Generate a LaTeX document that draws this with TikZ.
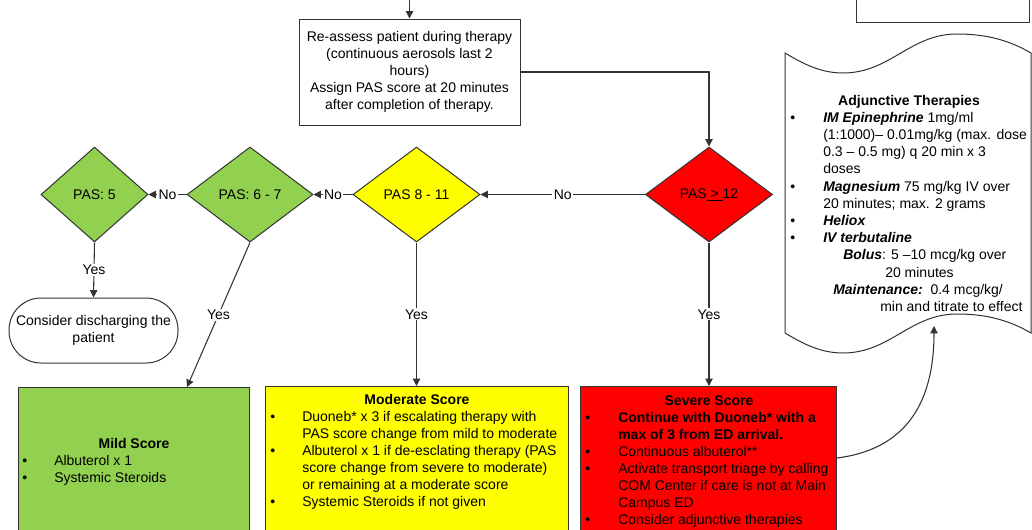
\documentclass[tikz,border=0pt]{standalone}
\usepackage{fontspec}
\setmainfont{Liberation Sans}
\usetikzlibrary{shapes.geometric,arrows.meta}
\definecolor{mildgreen}{HTML}{92D050}
\definecolor{modyellow}{HTML}{FFFF00}
\definecolor{sevred}{HTML}{FF0000}
\definecolor{inkgray}{HTML}{333333}
\begin{document}
\fontsize{10.5}{12.75}\selectfont
\begin{tikzpicture}[x=0.75pt,y=-0.75pt,
  edge/.style={draw=inkgray, line width=0.8pt},
  flow/.style={edge, -{Triangle[length=5.5pt,width=5.5pt]}},
  decision/.style={diamond, draw=inkgray, line width=0.75pt, inner sep=0pt,
    minimum height={95*0.75pt}},
  panel/.style={rectangle, draw=inkgray, line width=0.75pt, anchor=north west,
    inner sep=0pt},
  tag/.style={fill=white, inner sep=1pt},
  ln/.style={anchor=base west, inner sep=0pt},
  cln/.style={anchor=base, inner sep=0pt},
  bi/.style={font=\bfseries\itshape},
]
\useasboundingbox (0,0) rectangle (1032,529);

% previous step, only its lower part is in view
\node[panel, minimum width={173*0.75pt}, minimum height={40*0.75pt}] (prev) at (856,-18) {};

% re-assessment step
\node[draw=inkgray, line width=0.75pt, minimum width={221*0.75pt},
  minimum height={106*0.75pt}, align=center, inner sep=0pt] (reassess) at (409.5,72)
  {Re-assess patient during therapy\\(continuous aerosols last 2\\hours)\\Assign PAS score at 20 minutes\\after completion of therapy.};
\coordinate (entry) at (409.5,-10);

% score decisions
\node[decision, fill=sevred, minimum width={127*0.75pt}] (p12) at (709,194.5) {PAS\underline{\ >\ }12};
\node[decision, fill=modyellow, minimum width={127*0.75pt}] (p811) at (416.5,194.5) {PAS 8 - 11};
\node[decision, fill=mildgreen, minimum width={126*0.75pt}] (p67) at (250,194.5) {PAS: 6 - 7};
\node[decision, fill=mildgreen, minimum width={107*0.75pt}] (p5) at (94.5,194.5) {PAS: 5};

% discharge terminal
\node[draw=inkgray, line width=0.75pt, rounded corners=24pt, minimum width={169*0.75pt},
  minimum height={65*0.75pt}, align=center, inner sep=0pt] (discharge) at (93.5,330.5)
  {Consider discharging the\\patient};

% treatment panels
\node[panel, fill=mildgreen, minimum width={231*0.75pt}, minimum height={144*0.75pt}] (mild) at (18,387) {};
\node[panel, fill=modyellow, minimum width={303*0.75pt}, minimum height={170*0.75pt}] (moderate) at (265,386) {};
\node[panel, fill=sevred, minimum width={256*0.75pt}, minimum height={170*0.75pt}] (severe) at (580,386) {};

% adjunctive therapies (tape shape)
\draw[edge, line width=0.75pt, fill=white]
  (785,53) .. controls (805,65) and (822,73) .. (843,73)
  .. controls (890,73) and (910,34) .. (957,34)
  .. controls (990,34) and (1012,42) .. (1031,53)
  -- (1031,333) .. controls (1012,322) and (990,314) .. (957,314)
  .. controls (910,314) and (890,353) .. (843,353)
  .. controls (822,353) and (805,345) .. (785,333) -- cycle;
\coordinate (adjin) at (934,326);

% mild text
\node[cln, font=\bfseries] (mildT) at (134,448) {Mild Score};
\node[ln] (mildB1) at (22,465) {\textbullet};
\node[ln] (mild1) at (54,465) {Albuterol x 1};
\node[ln] (mildB2) at (22,482) {\textbullet};
\node[ln] (mild2) at (54,482) {Systemic Steroids};

% moderate text
\node[cln, font=\bfseries] (modT) at (417,404) {Moderate Score};
\node[ln] (modB1) at (270,421) {\textbullet};
\node[ln] (mod1) at (302,421) {Duoneb* x 3 if escalating therapy with};
\node[ln] (mod2) at (302,438) {PAS score change from mild to moderate};
\node[ln] (modB2) at (270,455) {\textbullet};
\node[ln] (mod3) at (302,455) {Albuterol x 1 if de-esclating therapy (PAS};
\node[ln] (mod4) at (302,472) {score change from severe to moderate)};
\node[ln] (mod5) at (302,489) {or remaining at a moderate score};
\node[ln] (modB3) at (270,506) {\textbullet};
\node[ln] (mod6) at (302,506) {Systemic Steroids if not given};

% severe text
\node[cln, font=\bfseries] (sevT) at (709,405) {Severe Score};
\node[ln] (sevB1) at (585,422) {\textbullet};
\node[ln, font=\bfseries] (sev1) at (618,422) {Continue with Duoneb* with a};
\node[ln, font=\bfseries] (sev2) at (618,439) {max of 3 from ED arrival.};
\node[ln] (sevB2) at (585,456) {\textbullet};
\node[ln] (sev3) at (618,456) {Continuous albuterol**};
\node[ln] (sevB3) at (585,473) {\textbullet};
\node[ln] (sev4) at (618,473) {Activate transport triage by calling};
\node[ln] (sev5) at (618,490) {COM Center if care is not at Main};
\node[ln] (sev6) at (618,507) {Campus ED};
\node[ln] (sevB4) at (585,524) {\textbullet};
\node[ln] (sev7) at (618,524) {Consider adjunctive therapies};

% adjunctive text
\node[cln, font=\bfseries] (adjT) at (909,105) {Adjunctive Therapies};
\node[ln] (adjB1) at (790,122.2) {\textbullet};
\node[ln] (adj1) at (823,122.2) {\textbf{\textit{IM Epinephrine}} 1mg/ml};
\node[ln] (adj2) at (823,139.4) {(1:1000)– 0.01mg/kg (max. dose};
\node[ln] (adj3) at (823,156.6) {0.3 – 0.5 mg) q 20 min x 3};
\node[ln] (adj4) at (823,173.8) {doses};
\node[ln] (adjB2) at (790,191) {\textbullet};
\node[ln] (adj5) at (823,191) {\textbf{\textit{Magnesium}} 75 mg/kg IV over};
\node[ln] (adj6) at (823,208.2) {20 minutes; max. 2 grams};
\node[ln] (adjB3) at (790,225.4) {\textbullet};
\node[ln, bi] (adj7) at (823,225.4) {Heliox};
\node[ln] (adjB4) at (790,242.6) {\textbullet};
\node[ln, bi] (adj8) at (823,242.6) {IV terbutaline};
\node[ln] (adj9) at (843,259.8) {\textbf{\textit{Bolus}}: 5 –10 mcg/kg over};
\node[ln] (adj10) at (885,277) {20 minutes};
\node[ln] (adj11) at (833,294.2) {\textbf{\textit{Maintenance:}}\ \ 0.4 mcg/kg/};
\node[ln] (adj12) at (880,311.4) {min and titrate to effect};

% connectors
\draw[flow] (entry) -- (reassess.north);
\draw[flow] (reassess.east) -| (p12.north);
\draw[flow] (p12.west) -- node[tag] {No} (p811.east);
\draw[flow] (p811.west) -- node[tag] {No} (p67.east);
\draw[flow] (p67.west) -- node[tag] {No} (p5.east);
\draw[flow] (p5.south) -- node[tag] {Yes} (discharge.north);
\draw[flow] (p67.south) -- node[tag] {Yes} ([xshift={169*0.75pt}]mild.north west);
\draw[flow] (p811.south) -- node[tag] {Yes} (p811.south |- moderate.north);
\draw[flow] (p12.south) -- node[tag] {Yes} (p12.south |- severe.north);
\draw[flow] ([yshift={-72*0.75pt}]severe.north east) .. controls (900,450) and (934,410) .. (adjin);
\end{tikzpicture}
\end{document}
